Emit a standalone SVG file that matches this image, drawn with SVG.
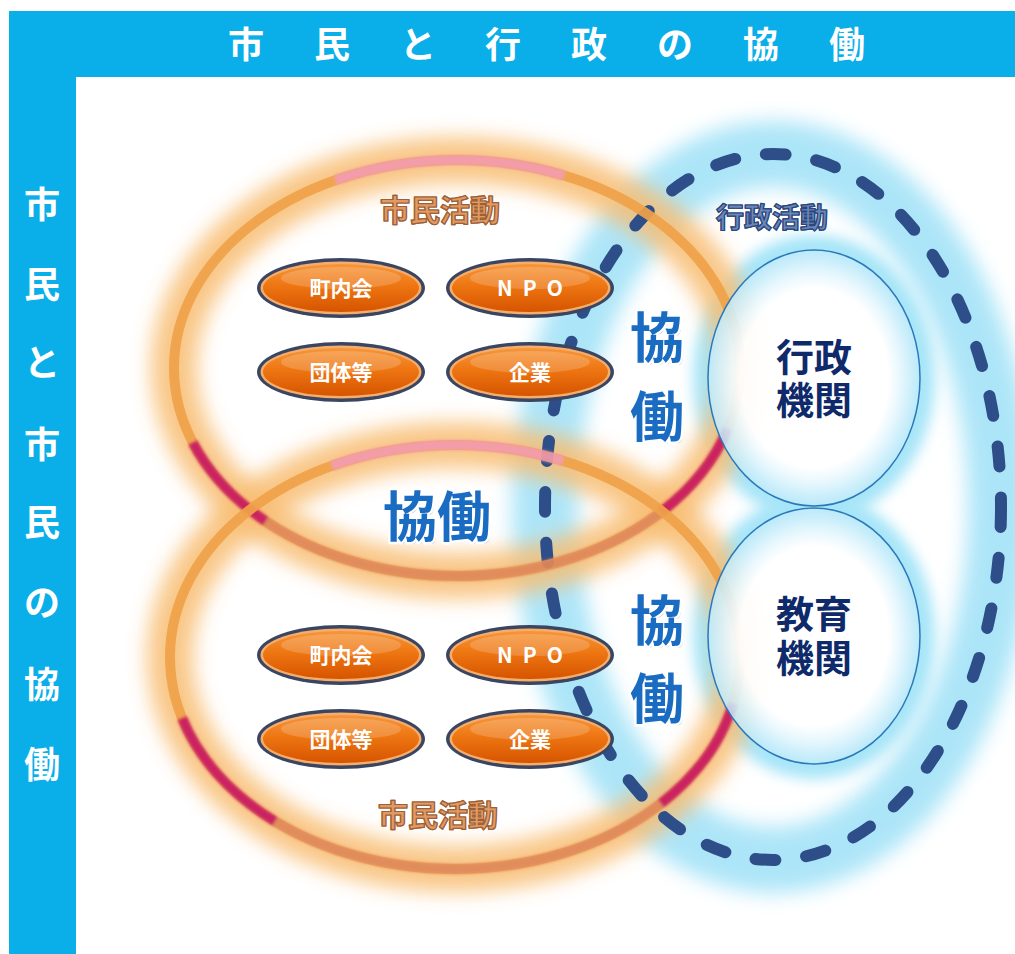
<svg xmlns="http://www.w3.org/2000/svg" width="1015" height="954" viewBox="0 0 1015 954">
<defs>
<style>
.jp{font-family:"Noto Sans CJK JP","Noto Sans CJK SC",sans-serif;font-weight:700}
.frameTxt{fill:#ffffff;font-size:36px;text-anchor:middle}
.pillTxt{fill:#ffffff;font-size:21px;text-anchor:middle}
.kyo{fill:#1a6cc2;font-size:54px;text-anchor:middle;stroke:#ffffff;stroke-width:5;paint-order:stroke;stroke-linejoin:round}
.kyoSh{fill:#9fb3cc;font-size:54px;text-anchor:middle;opacity:.7}
.kikan{fill:#0f2a6a;font-size:38px;text-anchor:middle}
.halo{stroke:#ffffff;stroke-width:6;stroke-linejoin:round;paint-order:stroke}
.shimin{fill:#e39a62;font-size:30px;text-anchor:middle;stroke:#9c6038;stroke-width:1.2}
.gyosei{fill:#6a88bb;font-size:28px;text-anchor:middle;stroke:#2b467a;stroke-width:1.2}
.ring{fill:none;stroke-width:10}
.glowO{fill:none;stroke:#f8bd72;stroke-width:46;opacity:.85}
.glowB{fill:none;stroke:#9fe1f7;stroke-width:66;opacity:.85}
.pillOut{fill:#3a4661}
.pillRing{fill:#f6ad6c}
.pillIn{fill:url(#pillG)}
.pillHi{fill:#ffffff;opacity:.18}
</style>
<filter id="blur10" x="-30%" y="-30%" width="160%" height="160%"><feGaussianBlur stdDeviation="10"/></filter>
<filter id="blur7" x="-30%" y="-30%" width="160%" height="160%"><feGaussianBlur stdDeviation="7"/></filter>
<filter id="blur2" x="-10%" y="-10%" width="120%" height="120%"><feGaussianBlur stdDeviation="1.6"/></filter>
<linearGradient id="pillG" x1="0" y1="0" x2="0" y2="1">
<stop offset="0" stop-color="#f6963a"/>
<stop offset="0.45" stop-color="#ee7612"/>
<stop offset="1" stop-color="#d65400"/>
</linearGradient>
<radialGradient id="innerG" cx="0.5" cy="0.5" r="0.5">
<stop offset="0" stop-color="#ffffff" stop-opacity="1"/>
<stop offset="0.7" stop-color="#ffffff" stop-opacity="0.95"/>
<stop offset="1" stop-color="#bfeafa" stop-opacity="0.85"/>
</radialGradient>
</defs>

<rect x="0" y="0" width="1015" height="954" fill="#ffffff"/>

<g id="frame">
<path d="M9 11 H1015 V77 H76 V954 H9 Z" fill="#0aaee8"/>
<text class="jp frameTxt" y="58"><tspan x="246">市</tspan><tspan x="332">民</tspan><tspan x="418">と</tspan><tspan x="503">行</tspan><tspan x="589">政</tspan><tspan x="675">の</tspan><tspan x="761">協</tspan><tspan x="847">働</tspan></text>
<text class="jp frameTxt" x="42" font-size="34"><tspan x="42" y="218">市</tspan><tspan x="42" y="298">民</tspan><tspan x="42" y="376">と</tspan><tspan x="42" y="458">市</tspan><tspan x="42" y="536">民</tspan><tspan x="42" y="616">の</tspan><tspan x="42" y="698">協</tspan><tspan x="42" y="778">働</tspan></text>
</g>

<g id="glows">
<ellipse cx="773" cy="507" rx="228" ry="353" class="glowB" filter="url(#blur10)"/>
<ellipse cx="814" cy="378" rx="106" ry="128" fill="none" stroke="#a6e5f8" stroke-width="30" filter="url(#blur7)"/>
<ellipse cx="814" cy="636" rx="106" ry="128" fill="none" stroke="#a6e5f8" stroke-width="30" filter="url(#blur7)"/>
<ellipse cx="457" cy="368" rx="283" ry="208" class="glowO" filter="url(#blur10)"/>
<ellipse cx="455" cy="657" rx="285" ry="212" class="glowO" filter="url(#blur10)"/>
</g>

<g id="connectors">
<ellipse cx="773" cy="507" rx="228" ry="353" fill="none" stroke="#2e4e8a" stroke-width="12" stroke-linecap="round" stroke-dasharray="20 31"/>
</g>

<g id="ring-upper" opacity="0.92">
<ellipse cx="457" cy="368" rx="283" ry="208" class="ring" stroke="#f0a24a"/>
<g filter="url(#blur2)">
<ellipse cx="457" cy="368" rx="283" ry="208" class="ring" pathLength="100" stroke="#e0875a" stroke-dasharray="28 100" stroke-dashoffset="-10"/>
<ellipse cx="457" cy="368" rx="283" ry="208" class="ring" pathLength="100" stroke="#c8185e" stroke-dasharray="7 100" stroke-dashoffset="-38"/>
<ellipse cx="457" cy="368" rx="283" ry="208" class="ring" pathLength="100" stroke="#c8185e" stroke-dasharray="7 100" stroke-dashoffset="-4"/>
<ellipse cx="457" cy="368" rx="283" ry="208" class="ring" pathLength="100" stroke="#f39aae" stroke-dasharray="15 100" stroke-dashoffset="-67"/>
</g>
</g>

<g id="ring-lower" opacity="0.92">
<ellipse cx="455" cy="657" rx="285" ry="212" class="ring" stroke="#f0a24a"/>
<g filter="url(#blur2)">
<ellipse cx="455" cy="657" rx="285" ry="212" class="ring" pathLength="100" stroke="#e0875a" stroke-dasharray="26 100" stroke-dashoffset="-11"/>
<ellipse cx="455" cy="657" rx="285" ry="212" class="ring" pathLength="100" stroke="#c8185e" stroke-dasharray="9 100" stroke-dashoffset="-37"/>
<ellipse cx="455" cy="657" rx="285" ry="212" class="ring" pathLength="100" stroke="#c8185e" stroke-dasharray="8 100" stroke-dashoffset="-3"/>
<ellipse cx="455" cy="657" rx="285" ry="212" class="ring" pathLength="100" stroke="#f39aae" stroke-dasharray="15 100" stroke-dashoffset="-67"/>
</g>
</g>

<g id="gyosei-kikan">
<ellipse cx="814" cy="378" rx="106" ry="128" fill="url(#innerG)" stroke="#2a78b8" stroke-width="1.5"/>
<text class="jp kikan"><tspan x="814" y="371">行政</tspan><tspan x="814" y="414">機関</tspan></text>
</g>

<g id="kyoiku-kikan">
<ellipse cx="814" cy="636" rx="106" ry="128" fill="url(#innerG)" stroke="#2a78b8" stroke-width="1.5"/>
<text class="jp kikan"><tspan x="814" y="628">教育</tspan><tspan x="814" y="672">機関</tspan></text>
</g>

<g id="label-gyosei-katsudo">
<text class="jp gyosei halo" x="772" y="228" stroke="#ffffff">行政活動</text>
<text class="jp gyosei" x="772" y="228">行政活動</text>
</g>

<g id="label-shimin-upper">
<text class="jp shimin halo" x="440" y="221" stroke="#ffffff">市民活動</text>
<text class="jp shimin" x="440" y="221">市民活動</text>
</g>
<g id="label-shimin-lower">
<text class="jp shimin halo" x="438" y="826" stroke="#ffffff">市民活動</text>
<text class="jp shimin" x="438" y="826">市民活動</text>
</g>

<g id="kyodo-upper">
<text class="jp kyoSh" x="659" y="360">協</text>
<text class="jp kyoSh" x="659" y="439">働</text>
<text class="jp kyo" x="657" y="358">協</text>
<text class="jp kyo" x="657" y="437">働</text>
</g>
<g id="kyodo-lower">
<text class="jp kyoSh" x="659" y="643">協</text>
<text class="jp kyoSh" x="659" y="721">働</text>
<text class="jp kyo" x="657" y="641">協</text>
<text class="jp kyo" x="657" y="719">働</text>
</g>
<g id="kyodo-center">
<text class="jp kyoSh" x="439" y="539">協働</text>
<text class="jp kyo" x="437" y="537">協働</text>
</g>

<g id="pill-chonaikai-1">
<ellipse cx="341" cy="288" rx="84" ry="30" class="pillOut"/>
<ellipse cx="341" cy="288" rx="80.5" ry="26.5" class="pillRing"/>
<ellipse cx="341" cy="288" rx="78" ry="24" class="pillIn"/>
<ellipse cx="341" cy="278" rx="60" ry="11" class="pillHi"/>
<text class="jp pillTxt" x="341" y="296">町内会</text>
</g>
<g id="pill-npo-1">
<ellipse cx="530" cy="288" rx="84" ry="30" class="pillOut"/>
<ellipse cx="530" cy="288" rx="80.5" ry="26.5" class="pillRing"/>
<ellipse cx="530" cy="288" rx="78" ry="24" class="pillIn"/>
<ellipse cx="530" cy="278" rx="60" ry="11" class="pillHi"/>
<text class="jp pillTxt" x="535" y="296" letter-spacing="10">NPO</text>
</g>
<g id="pill-dantai-1">
<ellipse cx="341" cy="372" rx="84" ry="30" class="pillOut"/>
<ellipse cx="341" cy="372" rx="80.5" ry="26.5" class="pillRing"/>
<ellipse cx="341" cy="372" rx="78" ry="24" class="pillIn"/>
<ellipse cx="341" cy="362" rx="60" ry="11" class="pillHi"/>
<text class="jp pillTxt" x="341" y="380">団体等</text>
</g>
<g id="pill-kigyo-1">
<ellipse cx="530" cy="372" rx="84" ry="30" class="pillOut"/>
<ellipse cx="530" cy="372" rx="80.5" ry="26.5" class="pillRing"/>
<ellipse cx="530" cy="372" rx="78" ry="24" class="pillIn"/>
<ellipse cx="530" cy="362" rx="60" ry="11" class="pillHi"/>
<text class="jp pillTxt" x="530" y="380">企業</text>
</g>

<g id="pill-chonaikai-2">
<ellipse cx="341" cy="655" rx="84" ry="30" class="pillOut"/>
<ellipse cx="341" cy="655" rx="80.5" ry="26.5" class="pillRing"/>
<ellipse cx="341" cy="655" rx="78" ry="24" class="pillIn"/>
<ellipse cx="341" cy="645" rx="60" ry="11" class="pillHi"/>
<text class="jp pillTxt" x="341" y="663">町内会</text>
</g>
<g id="pill-npo-2">
<ellipse cx="530" cy="655" rx="84" ry="30" class="pillOut"/>
<ellipse cx="530" cy="655" rx="80.5" ry="26.5" class="pillRing"/>
<ellipse cx="530" cy="655" rx="78" ry="24" class="pillIn"/>
<ellipse cx="530" cy="645" rx="60" ry="11" class="pillHi"/>
<text class="jp pillTxt" x="535" y="663" letter-spacing="10">NPO</text>
</g>
<g id="pill-dantai-2">
<ellipse cx="341" cy="739" rx="84" ry="30" class="pillOut"/>
<ellipse cx="341" cy="739" rx="80.5" ry="26.5" class="pillRing"/>
<ellipse cx="341" cy="739" rx="78" ry="24" class="pillIn"/>
<ellipse cx="341" cy="729" rx="60" ry="11" class="pillHi"/>
<text class="jp pillTxt" x="341" y="747">団体等</text>
</g>
<g id="pill-kigyo-2">
<ellipse cx="530" cy="739" rx="84" ry="30" class="pillOut"/>
<ellipse cx="530" cy="739" rx="80.5" ry="26.5" class="pillRing"/>
<ellipse cx="530" cy="739" rx="78" ry="24" class="pillIn"/>
<ellipse cx="530" cy="729" rx="60" ry="11" class="pillHi"/>
<text class="jp pillTxt" x="530" y="747">企業</text>
</g>
</svg>
